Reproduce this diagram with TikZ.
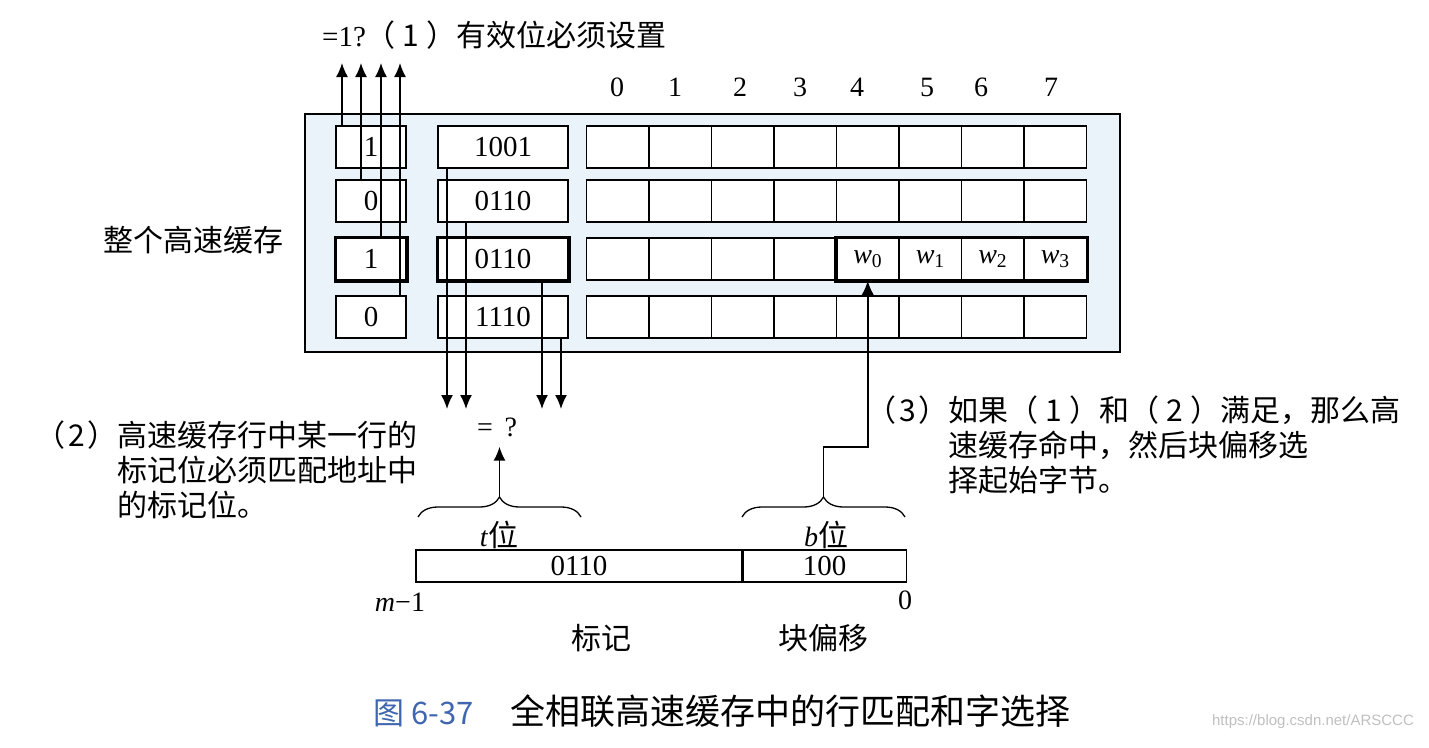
\documentclass[tikz,border=0pt]{standalone}
\usepackage{fontspec}
\setmainfont{Liberation Serif}
\newfontfamily\cjk{Noto Sans CJK SC}
\newfontfamily\wmfont{Liberation Sans}
\usetikzlibrary{arrows.meta, calc, positioning, decorations.pathreplacing}
\definecolor{hellblau}{HTML}{EAF2FA}
\definecolor{titelblau}{HTML}{3F66AE}
\newcommand{\zh}{\cjk\fontsize{30}{35}\selectfont}
\newcommand{\num}[1]{\hspace{7pt}#1\hspace{7pt}}
\newcommand{\lead}[1]{\hspace{3pt}#1\hspace{3pt}}

\begin{document}
\begin{tikzpicture}[x=1pt, y=1pt,
    box/.style={draw, line width=1.5pt, minimum height=42pt, inner sep=0pt,
                font=\fontsize{29}{35}\selectfont},
    cell/.style={box, minimum width=62.5pt},
    hit/.style={line width=3.5pt},
    arr/.style={-{Latex[length=14pt,width=12pt]}, line width=1.5pt},
    brc/.style={decorate, decoration={brace, amplitude=20pt}, line width=1.3pt},
    lbl/.style={font=\fontsize{28}{34}\selectfont, inner sep=0pt},
    zhlbl/.style={font=\zh, inner sep=0pt}
  ]
  \useasboundingbox (0,0) rectangle (1429,-747);
  \draw[line width=1.5pt, fill=hellblau] (305,-114) rectangle (1120,-352);

  \foreach \r/\y/\vb/\tg in {1/147/1/1001, 2/201/0/0110, 3/259/1/0110, 4/317/0/1110} {
    \node[box, fill=white, minimum width=70pt] (v\r) at (371,-\y) {\vb};
    \node[box, fill=white, minimum width=130pt] (t\r) at (503,-\y) {\tg};
    \foreach \j in {0,...,7}
      \node[cell, fill=white] (c-\r-\j) at (617.75+62.5*\j,-\y) {};
  }
  \draw[hit] (v3.north west) rectangle (v3.south east);
  \draw[hit] (t3.north west) rectangle (t3.south east);
  \draw[hit] (c-3-4.north west) rectangle (c-3-7.south east);

  \foreach \j/\x in {0/617, 1/675, 2/740, 3/800, 4/857, 5/927, 6/981, 7/1051}
    \node[lbl] (col\j) at (\x,-87) {\j};
  \foreach \j [evaluate=\j as \k using int(\j+4)] in {0,...,3}
    \node[lbl] (w\j) at (c-3-\k) {\textit{w}\textsubscript{\j}};

  \foreach \r/\x in {1/342, 2/361, 3/381, 4/400} {
    \coordinate (up\r) at (\x,-63);
    \draw[arr] (v\r.north -| up\r) -- (up\r);
  }
  \foreach \r/\x in {1/447, 2/466, 3/542, 4/561} {
    \coordinate (dn\r) at (\x,-409);
    \draw[arr] (t\r.south -| dn\r) -- (dn\r);
  }

  \node[zhlbl, anchor=base west] (valid) at (322,-46)
    {{\rmfamily\fontsize{29}{35}\selectfont =1?}（\num{1}）有效位必须设置};
  \node[zhlbl] (whole) at (193,-240) {整个高速缓存};
  \node[lbl] (eq) at (497,-427) {=\, ?};

  \node[box, minimum width=326pt, minimum height=32pt, line width=1.2pt] (tagfld) at (579,-566) {0110};
  \node[box, anchor=west, minimum width=163pt, minimum height=32pt, line width=1.2pt] (offfld) at (tagfld.east) {100};

  \draw[brc] (418,-517) -- (581,-517);
  \coordinate (ttip) at (499.5,-497);
  \draw[brc] (742,-517) -- (905,-517);
  \coordinate (btip) at (823.5,-497);
  \draw[arr, shorten >=10pt] (ttip) -- (ttip |- eq.south);
  \draw[arr] (btip) -- ++(0,50) -| (c-3-4.south);

  \node[lbl] (tbits) at (499,-535) {\textit{t}\zh 位};
  \node[lbl] (bbits) at (826,-535) {\textit{b}\zh 位};
  \node[lbl] (mlbl) at (400,-602) {\textit{m}−1};
  \node[lbl] (zero) at (905,-600) {0};
  \node[zhlbl] (tagname) at (601,-638) {标记};
  \node[zhlbl] (offname) at (823,-638) {块偏移};

  \node[zhlbl, anchor=base west, align=left] (cond2) at (35,-516)
    {（\lead{2}）高速缓存行中某一行的\\\phantom{（\lead{2}）}标记位必须匹配地址中\\\phantom{（\lead{2}）}的标记位。};
  \node[zhlbl, anchor=base west, align=left] (cond3) at (866,-491)
    {（\lead{3}）如果（\num{1}）和（\num{2}）满足，那么高\\\phantom{（\lead{3}）}速缓存命中，然后块偏移选\\\phantom{（\lead{3}）}择起始字节。};

  \node[anchor=base west, inner sep=0pt, text=titelblau, font=\cjk\fontsize{31}{36}\selectfont]
    (fignum) at (373,-724) {图 6-37};
  \node[anchor=base west, inner sep=0pt, font=\cjk\fontsize{35}{40}\selectfont]
    (caption) at (510,-724) {全相联高速缓存中的行匹配和字选择};
  \node[text=black!25, inner sep=0pt, font=\wmfont\fontsize{15}{18}\selectfont]
    (wm) at (1313,-722) {https://blog.csdn.net/ARSCCC};
\end{tikzpicture}
\end{document}
